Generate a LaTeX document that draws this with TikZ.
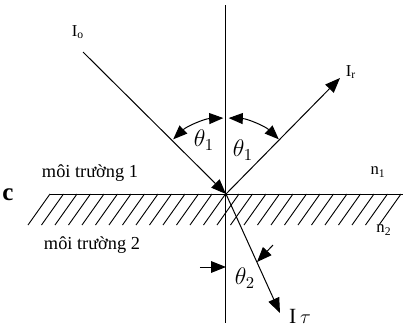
\documentclass[tikz,border=0pt]{standalone}
\usepackage{fontspec}
\setmainfont{Liberation Serif}
\usetikzlibrary{arrows.meta}

\begin{document}
\begin{tikzpicture}[
  x=0.6pt,y=0.6pt,
  >={Triangle[length=9pt,width=7pt]},
  ray/.style={line width=0.6pt},
  anglearrow/.style={line width=0.6pt,
    {Triangle[length=8.5pt,width=6.6pt]}-{Triangle[length=8.5pt,width=6.6pt]}},
  hatchline/.style={line width=0.55pt},
  medium/.style={font=\fontsize{11}{13}\selectfont},
  beam/.style={font=\fontsize{10}{12}\selectfont},
  anglelabel/.style={font=\fontsize{14}{16}\selectfont}
]
\useasboundingbox (0,0) rectangle (404,333);

% Points
\coordinate (O) at (226,139);
\coordinate (normaltop) at (226,328);
\coordinate (normalbot) at (226,10);
\coordinate (surfL) at (50,139);
\coordinate (surfR) at (403,139);
\coordinate (src) at (83,281);
\coordinate (refl) at (340,255);
\coordinate (refr) at (280,20);
\coordinate (t2tail) at (200,66);
\coordinate (t2tip) at (226,66);
\coordinate (t3tail) at (273,88);
\coordinate (t3tip) at (257,71);

% Hatching below the surface
\foreach \k in {0,...,26}
  \draw[hatchline] ({50+13.5*\k},139) -- ++(-22,-31);

% Surface and normal
\draw[ray] (surfL) -- (surfR);
\draw[ray] (normaltop) -- (normalbot);

% Rays
\draw[ray,->] (src) -- (O);
\draw[ray,->] (O) -- (refl);
\draw[ray,->] (O) -- (refr);

% Angle markers
\draw[anglearrow] ([shift={(134:76)}]O) arc[start angle=134,end angle=92,radius=76];
\draw[anglearrow] ([shift={(88:76)}]O) arc[start angle=88,end angle=46,radius=76];
\draw[ray,->] (t2tail) -- (t2tip);
\draw[ray,->] (t3tail) -- (t3tip);

% Labels
\node[beam] (Io) at (78,301) {I\textsubscript{o}};
\node[beam] (Ir) at (351,261) {I\textsubscript{r}};
\node[font=\fontsize{13}{15}\selectfont] (It) at (300,17) {I\,$\tau$};
\node[anglelabel] (th1l) at (204,193) {$\theta_1$};
\node[anglelabel] (th1r) at (243,183) {$\theta_1$};
\node[anglelabel] (th2) at (245,55) {$\theta_2$};
\node[beam] (n1) at (378,161) {n\textsubscript{1}};
\node[beam] (n2) at (384,103) {n\textsubscript{2}};
\node[medium] (med1) at (90,160) {môi trường 1};
\node[medium] (med2) at (92,88) {môi trường 2};
\node[font=\fontsize{15}{17}\selectfont\bfseries] (cmark) at (8,138) {c};

\end{tikzpicture}
\end{document}
